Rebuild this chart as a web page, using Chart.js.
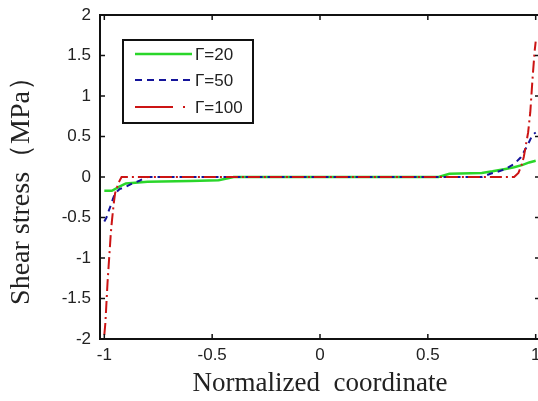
<!DOCTYPE html>
<html>
<head>
<meta charset="utf-8">
<script src="https://cdn.jsdelivr.net/npm/chart.js@4.4.0/dist/chart.umd.min.js"></script>
<style>
  html, body { margin: 0; padding: 0; background: #fff; overflow: hidden; }
  canvas { display: block; }
</style>
</head>
<body>
<canvas id="shear" width="548" height="401"></canvas>
<script>
// tick values
const xTicks = [-1, -0.5, 0, 0.5, 1];
const yTicks = [-2, -1.5, -1, -0.5, 0, 0.5, 1, 1.5, 2];

const seriesLabels = ['Γ=20', 'Γ=50', 'Γ=100'];

// Γ=20
const g20X = [-1, -0.965, -0.93, -0.9, -0.8, -0.6, -0.47, -0.4, 0, 0.55, 0.6, 0.75, 0.8, 0.86, 0.9, 0.94, 0.97, 1];
const g20Y = [-0.17, -0.17, -0.12, -0.08, -0.06, -0.05, -0.04, 0, 0, 0, 0.04, 0.05, 0.07, 0.1, 0.12, 0.15, 0.18, 0.2];

// Γ=50
const g50X = [-1, -0.99, -0.98, -0.97, -0.96, -0.95, -0.93, -0.9, -0.87, -0.84, -0.82, -0.8, 0, 0.75, 0.79, 0.83, 0.86, 0.9, 0.93, 0.96, 0.985, 1];
const g50Y = [-0.55, -0.5, -0.42, -0.35, -0.27, -0.2, -0.15, -0.12, -0.08, -0.05, -0.02, 0, 0, 0, 0.04, 0.07, 0.1, 0.16, 0.24, 0.38, 0.52, 0.55];

// Γ=100
const g100X = [-1, -0.995, -0.99, -0.985, -0.98, -0.975, -0.97, -0.965, -0.96, -0.955, -0.95, -0.94, -0.93, -0.92, 0, 0.9, 0.92, 0.935, 0.945, 0.955, 0.965, 0.975, 0.985, 0.995, 1];
const g100Y = [-1.95, -1.8, -1.55, -1.3, -1.1, -0.9, -0.7, -0.55, -0.42, -0.3, -0.2, -0.12, -0.05, 0, 0, 0, 0.05, 0.15, 0.25, 0.4, 0.55, 0.8, 1.2, 1.55, 1.67];

const toPoints = (xs, ys) => xs.map((x, i) => ({ x: x, y: ys[i] }));

const tickFont = { family: '"Liberation Sans Narrow", "Liberation Sans", Arial, sans-serif', size: 17 };
const serif = '"Liberation Serif", "Times New Roman", serif';

// box, inward ticks and legend drawn the MATLAB way
const framePlugin = {
  id: 'frame',
  afterDraw(chart) {
    const ctx = chart.ctx;
    const a = chart.chartArea;
    const xs = chart.scales.x, ys = chart.scales.y;
    ctx.save();
    ctx.strokeStyle = '#111';
    ctx.lineWidth = 2;
    ctx.strokeRect(a.left, a.top, a.right - a.left, a.bottom - a.top);

    ctx.lineWidth = 1.5;
    ctx.beginPath();
    xTicks.forEach(v => {
      const px = xs.getPixelForValue(v);
      ctx.moveTo(px, a.bottom); ctx.lineTo(px, a.bottom - 5);
      ctx.moveTo(px, a.top); ctx.lineTo(px, a.top + 5);
    });
    yTicks.forEach(v => {
      const py = ys.getPixelForValue(v);
      ctx.moveTo(a.left, py); ctx.lineTo(a.left + 5, py);
      ctx.moveTo(a.right, py); ctx.lineTo(a.right - 5, py);
    });
    ctx.stroke();

    // legend
    const bx = a.left + 23, by = a.top + 25, bw = 130, bh = 83;
    ctx.fillStyle = '#fff';
    ctx.fillRect(bx, by, bw, bh);
    ctx.lineWidth = 2;
    ctx.strokeStyle = '#111';
    ctx.strokeRect(bx, by, bw, bh);
    const rows = [14, 40, 67];
    const dashes = [[], [7, 5], [38, 10, 2, 10]];
    chart.data.datasets.forEach((ds, i) => {
      const ry = by + rows[i];
      ctx.strokeStyle = ds.borderColor;
      ctx.lineWidth = ds.borderWidth;
      ctx.setLineDash(dashes[i]);
      ctx.beginPath();
      ctx.moveTo(bx + 12, ry);
      ctx.lineTo(bx + 69, ry);
      ctx.stroke();
      ctx.setLineDash([]);
      ctx.fillStyle = '#222';
      ctx.font = '17px "Liberation Sans", Arial, sans-serif';
      ctx.textBaseline = 'middle';
      ctx.textAlign = 'left';
      ctx.fillText(ds.label, bx + 72, ry + 1);
    });
    ctx.restore();
  }
};

new Chart(document.getElementById('shear'), {
  type: 'scatter',
  data: {
    datasets: [
      {
        label: seriesLabels[0],
        data: toPoints(g20X, g20Y),
        borderColor: '#2ad62a',
        borderWidth: 2.5,
        order: 2
      },
      {
        label: seriesLabels[1],
        data: toPoints(g50X, g50Y),
        borderColor: '#14149a',
        borderWidth: 2,
        borderDash: [6, 5],
        order: 1
      },
      {
        label: seriesLabels[2],
        data: toPoints(g100X, g100Y),
        borderColor: '#cc1414',
        borderWidth: 2,
        borderDash: [12, 4, 2, 4],
        order: 0
      }
    ]
  },
  options: {
    responsive: false,
    animation: false,
    showLine: true,
    layout: { padding: { top: 15, right: 8, left: 0, bottom: 0 } },
    elements: {
      point: { radius: 0 },
      line: { tension: 0, fill: false }
    },
    plugins: {
      legend: { display: false },
      tooltip: { enabled: false }
    },
    scales: {
      x: {
        type: 'linear',
        min: -1.02,
        max: 1.02,
        afterBuildTicks: s => { s.ticks = xTicks.map(v => ({ value: v })); },
        afterFit: s => { s.height = 62; s.paddingLeft = 0; s.paddingRight = 0; },
        grid: { display: false, drawTicks: false },
        border: { display: false },
        ticks: { font: tickFont, color: '#222', padding: 6, maxRotation: 0, callback: v => String(v) },
        title: {
          display: true,
          text: 'Normalized  coordinate',
          font: { family: serif, size: 27 },
          color: '#222',
          padding: { top: 0, bottom: 1 }
        }
      },
      y: {
        type: 'linear',
        min: -2,
        max: 2,
        afterBuildTicks: s => { s.ticks = yTicks.map(v => ({ value: v })); },
        afterFit: s => { s.width = 100; s.paddingTop = 0; s.paddingBottom = 0; },
        grid: { display: false, drawTicks: false },
        border: { display: false },
        ticks: { font: tickFont, color: '#222', padding: 9, callback: v => String(v) },
        title: {
          display: true,
          text: 'Shear stress（MPa）  ',
          font: { family: serif, size: 28 },
          color: '#222',
          padding: { top: 5, bottom: 0 }
        }
      }
    }
  },
  plugins: [framePlugin]
});
</script>
</body>
</html>
